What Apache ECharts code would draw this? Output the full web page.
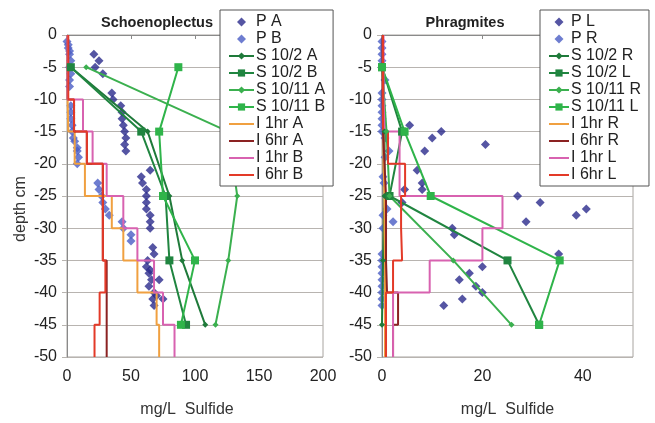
<!DOCTYPE html>
<html>
<head>
<meta charset="utf-8">
<script src="https://cdn.jsdelivr.net/npm/echarts@6/dist/echarts.min.js"></script>
<style>
html, body { margin: 0; background: #fff; }
#main { width: 655px; height: 423px; }
</style>
</head>
<body>
<div id="main"></div>
<script>
// sampling depths for the S series (cm)
const sDepths = [-5, -15, -25, -35, -45];
// 5 cm layers for the I step profiles, 0 .. -50
const layerTops = [0, -5, -10, -15, -20, -25, -30, -35, -40, -45];

// ---- Schoenoplectus ----
const pA = [[21,-3],[25,-4],[22,-5],[28,-6],[35,-9],[36,-10],[42,-11],[43,-12],[43,-13],[44,-14],[45,-15],[46,-16],[45,-17],[46,-18],
  [65,-21],[58,-22],[59,-23],[62,-24],[62,-25],[62,-26],[62,-27],[65,-28],[65,-29],[65,-30],[67,-33],[68,-34],[63,-35],[62,-36],
  [65,-36.5],[64,-37],[72,-38],[66,-38],[64,-39],[68,-40],[70,-40.5],[75,-41],[67,-41],[68,-42]];
const pB = [[0,-1],[1,-1.5],[1,-2],[2,-2.5],[2,-3],[3,-4],[2,-5],[3,-6],[2,-7],[2,-8],[3,-11],[3,-12],[3,-13],[4,-14],[4,-15],
  [5,-16],[6,-16.5],[8,-17.5],[8,-18],[9,-19],[8,-20],
  [24,-23],[25,-24],[27,-25],[28,-26],[30,-27],[33,-28],[43,-29],[44,-30],[50,-31],[50,-32]];
const s102A = [3, 63, 80, 90, 108];
const s102B = [3, 58, 77, 80, 93];
const s1011A = [15, 126, 133, 126, 116];
const s1011B = [87, 72, 75, 100, 89];
const i1hrA = [0.5, 0.5, 1, 6, 14, 35, 44, 55, 70, 72];
const i6hrA = [0.5, 0.5, 5.5, 15.5, 28, 28, 28, 31, 31, 31];
const i1hrB = [0.5, 0.5, 12.5, 20, 31, 44, 55, 68, 75, 84];
const i6hrB = [1, 1, 5.5, 15.5, 28, 28, 28, 30, 25.5, 21.5];

// ---- Phragmites ----
const pL = [[5.5,-14],[11.8,-15],[10,-16],[20.6,-17],[8.5,-18],[7,-21],[8,-23],[8,-24],[4.5,-24],[4,-26],[27,-25],[31.5,-26],
  [40.7,-27],[38.7,-28],[28.7,-29],[14,-30],[14.4,-31],[35.2,-34],[20,-36],[17.4,-37],[15.4,-38],[18.7,-39],[20,-40],[16,-41],[12.3,-42]];
const pR = [[0,-1],[0,-2],[0,-3],[0,-4],[0,-5],[0.6,-7],[0,-9],[0,-10],[0,-11],[0,-12],[0,-13],[0,-14],[0,-15],[0.6,-16],[1.4,-18],
  [0.6,-19],[0.2,-22],[0.4,-23],[1,-27],[0.2,-28],[2.2,-29],[0.2,-30],[0,-34],[0,-35],[0,-36],[0,-37],[0,-38],[0,-39],[0,-40],[0,-41],[0,-42]];
const s102R = [0.2, 0.5, 0.5, 0.2, 0];
const s102L = [0, 4, 1.5, 25, 31.3];
const s1011R = [0, 0.9, 1.5, 14.2, 25.8];
const s1011L = [0, 4.5, 9.7, 35.4, 31.3];
const i1hrR = [0.2, 0.2, 0.3, 0.3, 0.5, 0.5, 0.6, 0.6, 0.6, 0.6];
const i6hrR = [0.1, 0.1, 0.2, 0.5, 0.8, 0.8, 0.8, 1, 3.2, 2.2];
const i1hrL = [0.3, 0.3, 0.5, 3.5, 3.5, 24, 20, 9.5, 2.2, 2.2];
const i6hrL = [0.2, 0.2, 0.2, 1.2, 4.6, 3.8, 4, 2.2, 0.8, 0.8];

const font = "'Liberation Sans', Arial, sans-serif";
const colors = {
  pDark: "#2b2b8c", pLight: "#4a5cc4",
  gDark: "#1f7a3a", gDark2: "#208540", gLight: "#3bb04f", gLight2: "#2fb44a",
  orange: "#f0a040", brown: "#8b2222", pink: "#d862b0", red: "#e33a28"
};
const diamondIcon = "path://M5,0 L10,5 L5,10 L0,5 Z";

function stepPoints(vals) {
  const pts = [];
  vals.forEach((v, i) => {
    pts.push([v, layerTops[i]]);
    pts.push([v, layerTops[i] - 5]);
  });
  return pts;
}
function sPoints(vals) {
  return vals.map((v, i) => [v, sDepths[i]]);
}

function panelSeries(idx, names, p1, p2, s, iv) {
  const out = [];
  out.push({ name: names[0], type: "scatter", xAxisIndex: idx, yAxisIndex: idx, data: p1,
    symbol: "diamond", symbolSize: 9, itemStyle: { color: colors.pDark } });
  out.push({ name: names[1], type: "scatter", xAxisIndex: idx, yAxisIndex: idx, data: p2,
    symbol: "diamond", symbolSize: 9, itemStyle: { color: colors.pLight } });
  const sCol = [colors.gDark, colors.gDark2, colors.gLight, colors.gLight2];
  const sSym = ["diamond", "rect", "diamond", "rect"];
  const sSize = [6, 8, 6, 8];
  s.forEach((vals, k) => {
    out.push({ name: names[2 + k], type: "line", xAxisIndex: idx, yAxisIndex: idx, data: sPoints(vals),
      symbol: sSym[k], symbolSize: sSize[k], showAllSymbol: true,
      lineStyle: { color: sCol[k], width: 2 }, itemStyle: { color: sCol[k] } });
  });
  const iCol = [colors.orange, colors.brown, colors.pink, colors.red];
  iv.forEach((vals, k) => {
    out.push({ name: names[6 + k], type: "line", xAxisIndex: idx, yAxisIndex: idx, data: stepPoints(vals),
      symbol: "none", lineStyle: { color: iCol[k], width: 2 }, itemStyle: { color: iCol[k] } });
  });
  return out;
}

const namesL = ["P A", "P B", "S 10/2 A", "S 10/2 B", "S 10/11 A", "S 10/11 B", "I 1hr A", "I 6hr A", "I 1hr B", "I 6hr B"];
const namesR = ["P L", "P R", "S 10/2 R", "S 10/2 L", "S 10/11 R", "S 10/11 L", "I 1hr R", "I 6hr R", "I 1hr L", "I 6hr L"];

const series = [].concat(
  panelSeries(0, namesL, pA, pB, [s102A, s102B, s1011A, s1011B], [i1hrA, i6hrA, i1hrB, i6hrB]),
  panelSeries(1, namesR, pL, pR, [s102R, s102L, s1011R, s1011L], [i1hrR, i6hrR, i1hrL, i6hrL])
);

function xAxisCfg(idx, max, interval) {
  return {
    type: "value", gridIndex: idx, min: 0, max: max, interval: interval,
    name: "mg/L  Sulfide", nameLocation: "middle", nameGap: 45,
    nameTextStyle: { fontFamily: font, fontSize: 16, color: "#333", padding: [0, idx === 0 ? 16 : 0, 0, 0] },
    axisLine: { show: true, lineStyle: { color: "#8a8a8a", width: 1 } },
    axisTick: { show: true, length: 4, lineStyle: { color: "#8a8a8a" } },
    axisLabel: { fontFamily: font, fontSize: 16, color: "#222", margin: 12, showMaxLabel: idx === 0 },
    splitLine: { show: false }
  };
}
function yAxisCfg(idx) {
  return {
    type: "value", gridIndex: idx, min: -50, max: 0, interval: 5,
    name: idx === 0 ? "depth cm" : "", nameLocation: "middle", nameGap: 38,
    nameTextStyle: { fontFamily: font, fontSize: 16, color: "#333", padding: [0, 26, 0, 0] },
    axisLine: { show: true, lineStyle: { color: "#8a8a8a", width: 1 } },
    axisTick: { show: true, length: 5, lineStyle: { color: "#b8b4b0" } },
    axisLabel: { fontFamily: font, fontSize: 16, color: "#222", margin: 10 },
    splitLine: { show: true, lineStyle: { color: "#b8b4b0", width: 1 } }
  };
}

function legendCfg(names, left, top, width, itemWidth) {
  const data = names.map((n, k) => {
    if (k < 2) return { name: n, icon: diamondIcon };
    if (k >= 6) return { name: n, itemStyle: { opacity: 0 } };
    return { name: n };
  });
  return {
    data: data, orient: "vertical", left: left, top: top, width: width,
    backgroundColor: "#fff", borderColor: "#555", borderWidth: 1,
    padding: [4, 8, 3, 8], itemGap: 1, itemWidth: itemWidth, itemHeight: 9,
    symbolKeepAspect: true,
    textStyle: { fontFamily: font, fontSize: 16, color: "#222", lineHeight: 16, padding: [0, 0, 0, -3] }
  };
}

const chart = echarts.init(document.getElementById("main"), null, { renderer: "canvas" });
chart.setOption({
  animation: false,
  backgroundColor: "#fff",
  title: [
    { text: "Schoenoplectus", left: 152, top: 10, textAlign: "center",
      textStyle: { fontFamily: font, fontSize: 14.5, fontWeight: "bold", color: "#222" } },
    { text: "Phragmites", left: 460, top: 10, textAlign: "center",
      textStyle: { fontFamily: font, fontSize: 14.5, fontWeight: "bold", color: "#222" } }
  ],
  grid: [
    { left: 67, top: 35, width: 256, height: 325, show: true, borderColor: "#a8a4a0", borderWidth: 1 },
    { left: 382, top: 35, width: 251, height: 322, show: true, borderColor: "#a8a4a0", borderWidth: 1 }
  ],
  xAxis: [xAxisCfg(0, 200, 50), xAxisCfg(1, 50, 20)],
  yAxis: [yAxisCfg(0), yAxisCfg(1)],
  legend: [legendCfg(namesL, 220, 10, 115, 25), legendCfg(namesR, 540, 10, 108, 20)],
  series: series
});
</script>
</body>
</html>
